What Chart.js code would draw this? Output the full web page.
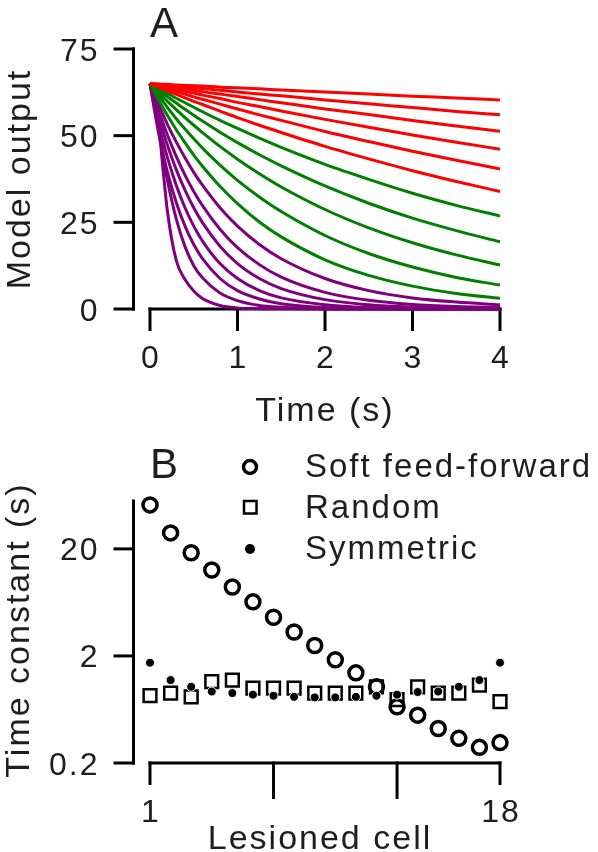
<!DOCTYPE html>
<html>
<head>
<meta charset="utf-8">
<script src="https://cdn.jsdelivr.net/npm/chart.js@4.4.1/dist/chart.umd.min.js"></script>
<style>
  html, body { margin: 0; padding: 0; background: #fff; }
  #wrap { position: relative; width: 598px; height: 852px; overflow: hidden; }
  canvas { position: absolute; left: 0; }
  #chartA { top: 0; }
  #chartB { top: 430px; }
</style>
</head>
<body>
<div id="wrap">
  <canvas id="chartA" width="598" height="430"></canvas>
  <canvas id="chartB" width="598" height="422"></canvas>
</div>
<script>
// ---- Panel A: model output after lesioning each cell ----
const times = [0, 0.05, 0.1, 0.15, 0.2, 0.3, 0.4, 0.5, 0.6, 0.8, 1, 1.25, 1.5, 2, 2.5, 3, 3.5, 4];

const redCurves = [
    [65, 64.9, 64.9, 64.8, 64.8, 64.6, 64.5, 64.4, 64.3, 64.0, 63.8, 63.5, 63.2, 62.6, 62.0, 61.4, 60.9, 60.3],
    [65, 64.9, 64.8, 64.6, 64.5, 64.3, 64.0, 63.8, 63.6, 63.1, 62.6, 62.0, 61.5, 60.3, 59.2, 58.1, 57.0, 56.0],
    [65, 64.8, 64.6, 64.4, 64.2, 63.9, 63.5, 63.1, 62.7, 62.0, 61.3, 60.4, 59.5, 57.7, 56.1, 54.4, 52.8, 51.3],
    [65, 64.7, 64.4, 64.2, 63.9, 63.3, 62.8, 62.3, 61.7, 60.7, 59.6, 58.4, 57.1, 54.7, 52.4, 50.2, 48.1, 46.1],
    [65, 64.6, 64.2, 63.9, 63.5, 62.7, 62.0, 61.2, 60.5, 59.1, 57.7, 56.0, 54.4, 51.2, 48.3, 45.5, 42.9, 40.4],
    [65, 64.5, 64.0, 63.4, 62.9, 61.9, 60.9, 59.9, 59.0, 57.1, 55.2, 53.0, 50.9, 46.9, 43.3, 39.9, 36.8, 33.9]
];
const greenCurves = [
    [65, 64.3, 63.6, 62.9, 62.2, 60.8, 59.5, 58.2, 56.9, 54.4, 52.1, 49.3, 46.6, 41.7, 37.4, 33.4, 29.9, 26.8],
    [65, 64.0, 63.1, 62.1, 61.2, 59.4, 57.6, 55.9, 54.2, 51.0, 48.0, 44.5, 41.3, 35.5, 30.5, 26.2, 22.6, 19.4],
    [65, 63.7, 62.4, 61.1, 59.9, 57.5, 55.2, 53.0, 50.9, 46.9, 43.2, 39.0, 35.2, 28.7, 23.4, 19.1, 15.6, 12.7],
    [65, 63.2, 61.5, 59.8, 58.1, 54.9, 51.9, 49.1, 46.4, 41.5, 37.1, 32.3, 28.1, 21.2, 16.0, 12.1, 9.1, 6.9],
    [65, 62.6, 60.2, 58.0, 55.8, 51.7, 48.0, 44.4, 41.2, 35.4, 30.4, 25.1, 20.8, 14.2, 9.7, 6.6, 4.5, 3.1]
];
const purpleCurves = [
    [65, 61.8, 58.8, 56.0, 53.2, 48.2, 43.6, 39.4, 35.7, 29.2, 23.9, 18.6, 14.5, 8.8, 5.3, 3.2, 2.0, 1.2],
    [65, 60.9, 57.1, 53.5, 50.1, 44.0, 38.6, 33.9, 29.8, 23.0, 17.7, 12.8, 9.2, 4.8, 2.5, 1.3, 0.7, 0.4],
    [65, 60.0, 55.4, 51.1, 47.2, 40.2, 34.3, 29.2, 24.9, 18.1, 13.1, 8.8, 5.9, 2.7, 1.2, 0.5, 0.2, 0.1],
    [65, 58.8, 53.2, 48.2, 43.6, 35.7, 29.2, 23.9, 19.6, 13.1, 8.8, 5.3, 3.2, 1.2, 0.4, 0.2, 0.1, 0],
    [65, 57.4, 50.6, 44.7, 39.4, 30.7, 23.9, 18.6, 14.5, 8.8, 5.3, 2.9, 1.5, 0.4, 0.1, 0, 0, 0],
    [65, 59.0, 51.5, 44.0, 37.0, 26.0, 18.0, 12.5, 9.0, 4.6, 2.4, 1.0, 0.5, 0.1, 0, 0, 0, 0],
    [65, 61.0, 53.0, 40.0, 28.0, 14.0, 8.5, 5.2, 3.0, 1.0, 0.3, 0.1, 0.05, 0, 0, 0, 0, 0]
];

const timeTicks = [0, 1, 2, 3, 4];
const timeTickLabels = ['0', '1', '2', '3', '4'];
const outputTicks = [0, 25, 50, 75];
const outputTickLabels = ['0', '25', '50', '75'];

// ---- Panel B: time constant per lesioned cell ----
const cells = [1, 2, 3, 4, 5, 6, 7, 8, 9, 10, 11, 12, 13, 14, 15, 16, 17, 18];
const softFeedForward = [51.5, 28.2, 18.4, 12.7, 8.8, 6.4, 4.6, 3.35, 2.5, 1.84, 1.39, 1.03, 0.67, 0.56, 0.42, 0.34, 0.28, 0.31];
const randomNet = [0.85, 0.90, 0.83, 1.15, 1.19, 1.0, 1.0, 1.0, 0.90, 0.90, 0.90, 1.03, 0.78, 1.03, 0.90, 0.90, 1.07, 0.75];
const symmetricNet = [1.73, 1.19, 1.03, 0.93, 0.90, 0.87, 0.85, 0.83, 0.82, 0.82, 0.83, 0.85, 0.87, 0.92, 0.93, 1.03, 1.19, 1.73];

const cellTicks = [1, 7, 13, 18];
const cellTickLabels = ['1', '', '', '18'];
const tauTicks = [0.2, 2, 20];
const tauTickLabels = ['0.2', '2', '20'];

const FONT = '"Liberation Sans", Arial, Helvetica, sans-serif';
const INK = '#1e1e1e';

function drawLabel(ctx, text, x, y, size, align, vertical) {
    ctx.save();
    ctx.font = size + 'px ' + FONT;
    ctx.fillStyle = INK;
    ctx.letterSpacing = '2px';
    ctx.textAlign = align;
    ctx.textBaseline = 'alphabetic';
    ctx.translate(x, y);
    if (vertical) ctx.rotate(-Math.PI / 2);
    ctx.fillText(text, 0, 0);
    ctx.restore();
}

function strokeLine(ctx, x1, y1, x2, y2) {
    ctx.beginPath();
    ctx.moveTo(x1, y1);
    ctx.lineTo(x2, y2);
    ctx.stroke();
}

// Detached axes: y axis sits left of the plot, x axis starts at its first tick
function drawAxes(chart, opts) {
    const ctx = chart.ctx;
    const xs = chart.scales.x;
    const ys = chart.scales.y;
    const left = xs.getPixelForValue(xs.min);
    const right = xs.getPixelForValue(xs.max);
    const top = ys.getPixelForValue(ys.max);
    const bottom = ys.getPixelForValue(ys.min);
    const axisX = left - 16.5;

    ctx.save();
    ctx.strokeStyle = '#000';
    ctx.lineWidth = 3;

    strokeLine(ctx, axisX, top - 1.5, axisX, bottom + 1.5);
    opts.yTicks.forEach((v, i) => {
        const py = ys.getPixelForValue(v);
        strokeLine(ctx, axisX - 20, py, axisX + 1.5, py);
        drawLabel(ctx, opts.yLabels[i], axisX - 34, py + 11.5, 32, 'right');
    });

    strokeLine(ctx, left - 1.5, bottom, right + 1.5, bottom);
    opts.xTicks.forEach((v, i) => {
        const px = xs.getPixelForValue(v);
        const len = opts.xLabels[i] === '' ? 36 : 22;
        strokeLine(ctx, px, bottom - 1.5, px, bottom + len);
        if (opts.xLabels[i]) drawLabel(ctx, opts.xLabels[i], px + 1, bottom + 59, 32, 'center');
    });
    ctx.restore();
}

const axesA = {
    id: 'axesA',
    beforeDatasetsDraw(chart) {
        drawAxes(chart, { xTicks: timeTicks, xLabels: timeTickLabels, yTicks: outputTicks, yLabels: outputTickLabels });
        const ctx = chart.ctx;
        drawLabel(ctx, 'Time (s)', 325, 421, 34, 'center');
        drawLabel(ctx, 'Model output', 30, 179, 34, 'center', true);
        drawLabel(ctx, 'A', 150, 37, 42, 'left');
    }
};

const axesB = {
    id: 'axesB',
    beforeDatasetsDraw(chart) {
        drawAxes(chart, { xTicks: cellTicks, xLabels: cellTickLabels, yTicks: tauTicks, yLabels: tauTickLabels });
        const ctx = chart.ctx;
        drawLabel(ctx, 'Lesioned cell', 320, 419, 34, 'center');
        drawLabel(ctx, 'Time constant (s)', 29, 200, 34, 'center', true);
        drawLabel(ctx, 'B', 150, 48, 42, 'left');
    },
    afterDatasetsDraw(chart) {
        // hand-placed legend block to the right of the panel letter
        const ctx = chart.ctx;
        ctx.save();
        ctx.strokeStyle = '#000';
        ctx.fillStyle = '#000';
        ctx.lineWidth = 3.5;
        ctx.beginPath();
        ctx.arc(250, 37, 6.5, 0, Math.PI * 2);
        ctx.stroke();
        ctx.lineWidth = 2.5;
        ctx.strokeRect(244, 71, 12.5, 12.5);
        ctx.beginPath();
        ctx.arc(250, 119, 5, 0, Math.PI * 2);
        ctx.fill();
        ctx.restore();
        drawLabel(ctx, chart.data.datasets[0].label, 305, 47, 33, 'left');
        drawLabel(ctx, chart.data.datasets[1].label, 305, 88, 33, 'left');
        drawLabel(ctx, chart.data.datasets[2].label, 305, 129, 33, 'left');
    }
};

function curveDataset(values, color) {
    return {
        data: times.map((t, i) => ({ x: t, y: values[i] })),
        borderColor: color,
        borderWidth: 3,
        pointRadius: 0,
        cubicInterpolationMode: 'monotone',
        fill: false,
        clip: false
    };
}

const datasetsA = [
    ...redCurves.map(v => curveDataset(v, '#ff0000')),
    ...greenCurves.map(v => curveDataset(v, '#007f00')),
    ...purpleCurves.map(v => curveDataset(v, '#7f007f'))
];

new Chart(document.getElementById('chartA'), {
    type: 'line',
    data: { datasets: datasetsA },
    options: {
        responsive: false,
        animation: false,
        devicePixelRatio: 1,
        layout: { padding: { left: 150, right: 98, top: 49, bottom: 121 } },
        plugins: { legend: { display: false }, tooltip: { enabled: false } },
        scales: {
            x: { type: 'linear', min: 0, max: 4, display: false },
            y: { type: 'linear', min: 0, max: 75, display: false }
        }
    },
    plugins: [axesA]
});

function cellPoints(values) {
    return cells.map((c, i) => ({ x: c, y: values[i] }));
}

new Chart(document.getElementById('chartB'), {
    type: 'scatter',
    data: {
        datasets: [
            {
                label: 'Soft feed-forward',
                data: cellPoints(softFeedForward),
                pointStyle: 'circle',
                pointRadius: 7,
                pointBorderWidth: 3.5,
                pointBorderColor: '#000',
                pointBackgroundColor: 'rgba(0,0,0,0)',
                order: 2,
                clip: false
            },
            {
                label: 'Random',
                data: cellPoints(randomNet),
                pointStyle: 'rect',
                pointRadius: 9,
                pointBorderWidth: 2.5,
                pointBorderColor: '#000',
                pointBackgroundColor: 'rgba(0,0,0,0)',
                order: 1,
                clip: false
            },
            {
                label: 'Symmetric',
                data: cellPoints(symmetricNet),
                pointStyle: 'circle',
                pointRadius: 4.5,
                pointBorderWidth: 1,
                pointBorderColor: '#fff',
                pointBackgroundColor: '#000',
                order: 0,
                clip: false
            }
        ]
    },
    options: {
        responsive: false,
        animation: false,
        devicePixelRatio: 1,
        layout: { padding: { left: 150, right: 98, top: 71, bottom: 89 } },
        plugins: { legend: { display: false }, tooltip: { enabled: false } },
        scales: {
            x: { type: 'linear', min: 1, max: 18, display: false },
            y: { type: 'logarithmic', min: 0.2, max: 56, display: false }
        }
    },
    plugins: [axesB]
});
</script>
</body>
</html>
